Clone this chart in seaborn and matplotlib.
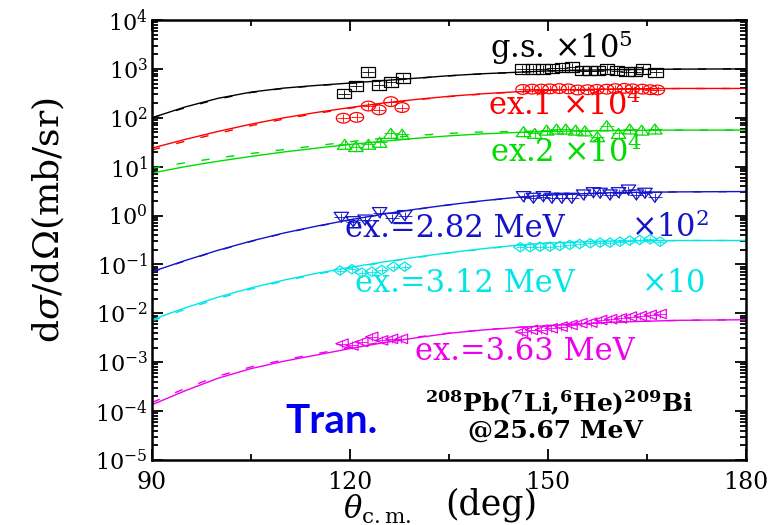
import numpy as np
import pandas as pd
import matplotlib
matplotlib.use("Agg")
import matplotlib.pyplot as plt
import seaborn as sns
from matplotlib.markers import MarkerStyle
from matplotlib.transforms import Affine2D
from matplotlib.ticker import LogLocator, MultipleLocator, NullFormatter

# ---------------- data ----------------
theta_curve = [90, 95, 100, 105, 110, 115, 120, 125, 130, 135, 140, 145, 150, 160, 170, 180]

gs_solid = [100, 166, 250, 335, 405, 460, 513, 575, 645, 725, 795, 850, 912, 966, 990, 1000]
gs_dashed = [100, 160, 242, 328, 400, 455, 508, 570, 640, 720, 790, 846, 908, 962, 988, 1000]
ex1_solid = [24, 36, 52.5, 74, 100, 129, 162, 200, 237, 275, 309, 339, 367, 389, 398, 398]
ex1_dashed = [22, 33, 48, 69, 94, 123, 157, 195, 233, 271, 305, 336, 364, 387, 396, 397]
ex2_solid = [7.4, 10, 12.9, 16.2, 20, 24, 28.5, 33, 38, 42.7, 46.8, 50, 52.5, 55, 56, 56]
ex2_dashed = [9.3, 12, 15.1, 18.6, 22.4, 26.9, 32.4, 38, 43.7, 47.9, 51.3, 52.5, 53.7, 55, 56, 56]
e282_solid = [0.071, 0.12, 0.195, 0.30, 0.44, 0.61, 0.82, 1.07, 1.35, 1.66, 2.0, 2.34, 2.63, 2.95, 3.05, 3.1]
e282_dashed = [0.070, 0.118, 0.192, 0.295, 0.435, 0.60, 0.81, 1.06, 1.34, 1.65, 1.99, 2.33, 2.62, 2.95, 3.05, 3.1]
e312_solid = [0.0074, 0.0129, 0.0214, 0.0331, 0.0479, 0.066, 0.087, 0.112, 0.141, 0.174, 0.209, 0.245, 0.275, 0.302, 0.309, 0.309]
e312_dashed = [0.0070, 0.0120, 0.0200, 0.0312, 0.0458, 0.0635, 0.084, 0.109, 0.138, 0.171, 0.206, 0.242, 0.273, 0.300, 0.308, 0.309]
e363_solid = [1.35e-4, 2.6e-4, 4.7e-4, 7.4e-4, 1.05e-3, 1.41e-3, 1.9e-3, 2.5e-3, 3.15e-3, 3.9e-3, 4.55e-3, 5.1e-3, 5.6e-3, 6.6e-3, 7.2e-3, 7.4e-3]
e363_dashed = [1.5e-4, 2.9e-4, 5.2e-4, 8.0e-4, 1.12e-3, 1.5e-3, 2.0e-3, 2.6e-3, 3.25e-3, 3.95e-3, 4.6e-3, 5.15e-3, 5.65e-3, 6.6e-3, 7.2e-3, 7.4e-3]

gs_theta = [119.1, 120.9, 122.7, 124.4, 126.2, 128.0, 146.1, 147.7, 149.2, 150.6, 152.1, 153.6, 155.1,
            156.4, 157.6, 159.0, 160.5, 161.9, 163.2, 164.4, 166.3]
gs_xs = [310, 450, 870, 470, 540, 650, 995, 995, 995, 1030, 1060, 1090, 920, 920, 920, 995, 920, 880,
         880, 995, 850]
ex1_theta = [119.0, 121.0, 122.8, 124.4, 126.2, 127.9, 146.2, 147.6, 149.0, 150.3, 151.7, 153.1, 154.5,
             156.0, 157.4, 158.9, 160.2, 161.6, 162.8, 164.3, 165.5, 166.6]
ex1_xs = [98, 102, 174, 145, 214, 162, 380, 385, 385, 390, 395, 390, 370, 375, 380, 385, 395, 400, 390,
          385, 375, 370]
ex2_theta = [119.2, 120.9, 122.8, 124.5, 126.2, 127.9, 146.3, 148.0, 149.8, 151.3, 152.7, 154.2, 155.6,
             157.5, 158.9, 160.7, 162.4, 164.2, 166.2]
ex2_xs = [28.7, 25.8, 28.7, 31.6, 48, 46, 52, 48, 56, 59, 59, 56, 54, 41, 69, 48, 59, 56, 59]
e282_theta = [118.7, 120.5, 122.3, 124.5, 126.3, 128.3, 146.3, 147.8, 149.3, 150.6, 152.1, 153.6, 155.4,
              156.9, 157.9, 159.4, 160.7, 162.2, 163.4, 164.7, 166.2]
e282_xs = [0.92, 0.75, 0.81, 1.15, 0.88, 1.0, 2.44, 2.26, 2.44, 2.26, 2.26, 2.26, 2.64, 2.94, 2.86, 2.64,
           2.94, 3.33, 2.64, 2.86, 2.37]
e312_theta = [118.5, 120.3, 121.8, 123.3, 124.8, 126.6, 128.3, 145.8, 147.3, 148.8, 150.3, 151.8, 153.3,
              154.8, 156.4, 157.9, 159.4, 160.9, 162.4, 163.9, 165.5, 167.0]
e312_xs = [0.075, 0.080, 0.068, 0.071, 0.077, 0.090, 0.090, 0.225, 0.225, 0.231, 0.231, 0.239, 0.251,
           0.262, 0.271, 0.279, 0.279, 0.292, 0.307, 0.317, 0.327, 0.292]
e363_theta = [118.8, 120.3, 121.8, 123.3, 124.8, 126.3, 127.8, 146.0, 147.5, 149.0, 150.5, 152.0, 153.5,
              155.0, 156.5, 158.0, 159.5, 161.0, 162.5, 164.0, 165.5, 167.0]
e363_xs = [2.4e-3, 2.2e-3, 2.6e-3, 3.3e-3, 2.8e-3, 3.0e-3, 3.0e-3, 4.2e-3, 4.6e-3, 4.6e-3, 4.95e-3,
           5.35e-3, 5.8e-3, 6.3e-3, 6.45e-3, 7.3e-3, 7.6e-3, 7.9e-3, 8.6e-3, 8.85e-3, 9.3e-3, 9.7e-3]

series_names = ["gs", "ex1", "ex2", "e282", "e312", "e363"]
x_ticks = [90, 120, 150, 180]

# ---------------- style ----------------
sns.set_theme(style="ticks")
plt.rcParams["font.family"] = ["DejaVu Serif"]
plt.rcParams["mathtext.fontset"] = "dejavuserif"
plt.rcParams.update({"text.color": "black", "axes.labelcolor": "black",
                     "xtick.color": "black", "ytick.color": "black"})

colors = {"gs": "#000000", "ex1": "#ff0000", "ex2": "#00dc00", "e282": "#1414c8",
          "e312": "#00e6e6", "e363": "#ee00ee"}

fig = plt.figure(figsize=(7.71, 5.25), dpi=100)
ax = fig.add_axes([0.1971, 0.1238, 0.7704, 0.8381])
ax.set_yscale("log")

# curves
solids = [gs_solid, ex1_solid, ex2_solid, e282_solid, e312_solid, e363_solid]
dashed = [gs_dashed, ex1_dashed, ex2_dashed, e282_dashed, e312_dashed, e363_dashed]
rows = []
for name, s, d in zip(series_names, solids, dashed):
    for t, v in zip(theta_curve, s):
        rows.append((t, v, name, "solid"))
    for t, v in zip(theta_curve, d):
        rows.append((t, v, name, "dashed"))
curves = pd.DataFrame(rows, columns=["theta", "xs", "series", "calc"])
sns.lineplot(data=curves, x="theta", y="xs", hue="series", style="calc",
             palette=colors, dashes={"solid": "", "dashed": (6, 12)},
             estimator=None, legend=False, lw=1.0, ax=ax)

# data points
pts = [(gs_theta, gs_xs, "s", 6.8, 1.5),
       (ex1_theta, ex1_xs, "o", 7.0, 1.45),
       (ex2_theta, ex2_xs, "^", 7.2, 1.45),
       (e282_theta, e282_xs, "v", 7.2, 1.45),
       (e312_theta, e312_xs, "D", 4.8, 1.4),
       (e363_theta, e363_xs, "<", 6.8, 1.3)]
for name, (tx, vy, mk, ms, sx) in zip(series_names, pts):
    m = MarkerStyle(mk, transform=Affine2D().scale(sx, 1.0))
    sns.scatterplot(x=tx, y=vy, marker=m, s=ms ** 2, color=colors[name],
                    facecolor="none", edgecolor=colors[name], linewidth=0.9, ax=ax, zorder=3)
    cross = MarkerStyle("+", transform=Affine2D().scale(sx * 0.9, 0.9))
    sns.scatterplot(x=tx, y=vy, marker=cross, s=ms ** 2, color=colors[name],
                    linewidth=0.6, ax=ax, zorder=3)

# axes
ax.set_xlim(90, 180)
ax.set_ylim(1e-5, 1e4)
ax.set_xticks(x_ticks)
ax.xaxis.set_minor_locator(MultipleLocator(15))
ax.yaxis.set_major_locator(LogLocator(base=10, numticks=20))
ax.yaxis.set_minor_locator(LogLocator(base=10, subs=np.arange(2, 10), numticks=200))
ax.yaxis.set_minor_formatter(NullFormatter())
ax.tick_params(which="both", direction="in", top=True, right=True, color="black", width=1.3)
ax.tick_params(which="major", length=8, labelcolor="black")
ax.tick_params(which="minor", length=4)
ax.tick_params(axis="x", which="major", pad=8, labelsize=17)
ax.tick_params(axis="y", which="major", pad=3, labelsize=16)
for sp in ax.spines.values():
    sp.set_linewidth(1.8)
    sp.set_color("black")
ax.set_xlabel("")
ax.set_ylabel("")
ax.set_facecolor("white")

# series labels
fs = 22
ax.text(141.2, 1670, r"g.s. $\times$10$^{5}$", color=colors["gs"], fontsize=fs, ha="left", va="baseline")
ax.text(140.9, 114, r"ex.1 $\times$10$^{4}$", color=colors["ex1"], fontsize=fs, ha="left", va="baseline")
ax.text(141.2, 12.5, r"ex.2 $\times$10$^{4}$", color=colors["ex2"], fontsize=fs, ha="left", va="baseline")
ax.text(119.2, 0.365, "ex.=2.82 MeV", color=colors["e282"], fontsize=fs, ha="left", va="baseline")
ax.text(174.5, 0.365, r"$\times$10$^{2}$", color=colors["e282"], fontsize=fs, ha="right", va="baseline")
ax.text(120.8, 0.0274, "ex.=3.12 MeV", color=colors["e312"], fontsize=fs, ha="left", va="baseline")
ax.text(173.8, 0.0274, r"$\times$10", color=colors["e312"], fontsize=fs, ha="right", va="baseline")
ax.text(129.8, 1.11e-3, "ex.=3.63 MeV", color=colors["e363"], fontsize=fs, ha="left", va="baseline")

ax.text(151.7, 9.6e-5, r"$^{\mathbf{208}}$Pb($^{\mathbf{7}}$Li,$^{\mathbf{6}}$He)$^{\mathbf{209}}$Bi",
        fontsize=18, fontweight="bold", ha="center", va="baseline", color="black")
ax.text(151.1, 2.83e-5, "@25.67 MeV", fontsize=18, fontweight="bold", ha="center", va="baseline",
        color="black")
ax.text(110.2, 3.58e-5, "Tran.", fontsize=29, fontweight="bold", family=["Lato", "DejaVu Sans"],
        color="#0000ee", ha="left", va="baseline")

# axis titles
fig.text(48 / 771, 1 - 220 / 525, r"d$\sigma$/d$\mathit{\Omega}$(mb/sr)", rotation=90,
         fontsize=26, ha="center", va="center")
fig.text(343 / 771, 1 - 519 / 525, r"$\theta_{\mathrm{c.m.}}$", fontsize=22, ha="left", va="baseline")
fig.text(445 / 771, 1 - 514 / 525, "(deg)", fontsize=25, ha="left", va="baseline")

fig.savefig("out.png", dpi=100, facecolor="white")
